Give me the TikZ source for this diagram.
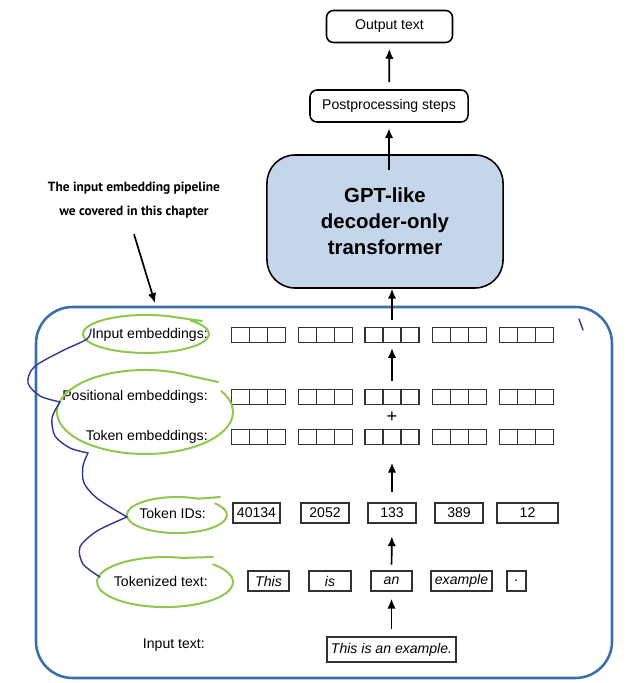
\documentclass[tikz,border=0pt]{standalone}
\usepackage{fontspec}
\setmainfont{Liberation Sans}
\newfontfamily\notefont{PT Sans}
\usetikzlibrary{arrows.meta}

\definecolor{gptfill}{RGB}{198,214,234}
\definecolor{frameblue}{RGB}{58,110,168}
\definecolor{penblue}{RGB}{50,54,150}
\definecolor{pengreen}{RGB}{140,200,75}
\definecolor{boxgray}{RGB}{50,50,50}

\begin{document}
\begin{tikzpicture}[x=0.025cm,y=0.025cm,font=\fontsize{10}{12}\selectfont,
  arr/.style={line width=1.2pt,-{Latex[length=7pt,width=6pt]}},
  stepbox/.style={draw,rounded corners=5pt,line width=1.1pt,inner sep=2pt},
  tokbox/.style={draw=boxgray,line width=1pt,minimum height=0.5cm,inner sep=1pt},
  cell/.style={draw=boxgray,line width=1.2pt,minimum width=0.45cm,minimum height=0.375cm,inner sep=0pt,outer sep=0pt},
  rowlabel/.style={anchor=east,inner sep=0pt},
  hand/.style={pengreen,line width=1.4pt,line cap=round,line join=round},
  pen/.style={penblue,line width=1pt,line cap=round}]
\useasboundingbox (0,0) rectangle (635,-683);

\draw[frameblue,line width=1.8pt,rounded corners=26pt] (36,-307) rectangle (612,-678);

% top part
\node[stepbox,minimum width=3.15cm,minimum height=0.8cm] (out) at (389.5,-26.5) {Output text};
\node[stepbox,minimum width=3.95cm,minimum height=0.8cm] (post) at (389,-106) {Postprocessing steps};
\node[draw,line width=1.1pt,fill=gptfill,rounded corners=20pt,minimum width=5.9cm,minimum height=3.325cm,
  align=center,font=\bfseries\fontsize{14.5}{18.5}\selectfont] (gpt) at (385,-221.5) {GPT-like\\decoder-only\\transformer};
\draw[arr,shorten <=5pt,shorten >=4pt] (post) -- (out);
\draw[arr,shorten <=-11pt,shorten >=4pt] (gpt.north -| post) -- (post.south);

% embedding rows
\foreach \row/\y in {inp/335,pos/397,tok/437}{
  \foreach \cx [count=\g] in {258.5,325.5,392,459.5,526.5}{
    \foreach \k in {1,2,3}{
      \node[cell] (\row-\g-\k) at ({\cx+(\k-2)*18},-\y) {};
    }
  }
}
\node (plus) at (392,-417) {\fontsize{13}{13}\selectfont +};

\foreach \lab/\cx/\w [count=\i] in {40134/256.5/47,2052/325/48,133/392/48,389/459/48,12/527.5/61}
  \node[tokbox,minimum width=\w*0.025cm] (id\i) at (\cx,-513) {\lab};
\foreach \lab/\cx/\w [count=\i] in {This/268.5/41,is/330/42,an/391.5/41,example/461.5/61,./516.5/19}
  \node[tokbox,minimum width=\w*0.025cm] (tt\i) at (\cx,-581) {\itshape\lab};
\node[tokbox,minimum width=3.225cm,minimum height=0.625cm] (intext) at (391.5,-649.5) {\itshape This is an example.};

\draw[arr,shorten <=5pt] (inp-3-2.north) -- (inp-3-2.north |- gpt.south);
\draw[arr,shorten <=6pt,shorten >=4pt] (pos-3-2.north) -- (inp-3-2.south);
\draw[arr,shorten <=7pt,shorten >=13pt] (id3.north) -- (tok-3-2.south);
\draw[arr,shorten <=4pt,shorten >=9pt] (tt3.north) -- (id3.south);
\draw[arr,shorten <=5pt,shorten >=5pt] (intext.north) -- (tt3.south);

% row labels
\node[rowlabel] (linp) at (208,-335) {Input embeddings:};
\node[rowlabel] (lpos) at (208,-397) {Positional embeddings:};
\node[rowlabel] (ltok) at (208,-437) {Token embeddings:};
\node[rowlabel] (lid) at (206,-513) {Token IDs:};
\node[rowlabel] (ltt) at (208,-581) {Tokenized text:};
\node[rowlabel] (lin) at (205,-645) {Input text:};

% note
\node[align=center,font=\notefont\bfseries\fontsize{9.5}{17}\selectfont] (note) at (134,-200) {The input embedding pipeline\\we covered in this chapter};
\coordinate (notetip) at (155,-303);
\draw[arr] ([yshift=-8pt]note.south) -- (notetip);

% pen marks
\draw[hand] (202,-321) -- (167.5,-316.1) arc[start angle=70,end angle=405,x radius=63*0.025cm,y radius=19*0.025cm];
\draw[hand] (218,-382) -- (189,-375.6) arc[start angle=60,end angle=390,x radius=88*0.025cm,y radius=42*0.025cm];
\draw[hand] (220,-497) -- (198,-498.7) arc[start angle=65,end angle=400,x radius=50*0.025cm,y radius=18*0.025cm];
\draw[hand] (213,-557) -- (182.6,-557.9) arc[start angle=75,end angle=405,x radius=68*0.025cm,y radius=25*0.025cm];
\draw[pen] plot[smooth] coordinates {(91,-329) (87,-339) (62,-351) (34,-367) (28,-383) (40,-396) (60,-402)};
\draw[pen] plot[smooth] coordinates {(60,-402) (52,-418) (55,-436) (70,-448) (88,-453)};
\draw[pen] plot[smooth] coordinates {(88,-453) (83,-466) (84,-483) (98,-499) (127,-517)};
\draw[pen] plot[smooth] coordinates {(127,-517) (97,-531) (80,-547) (83,-564) (100,-577)};
\draw[pen] (579,-319) -- (583,-330);

\end{tikzpicture}
\end{document}
